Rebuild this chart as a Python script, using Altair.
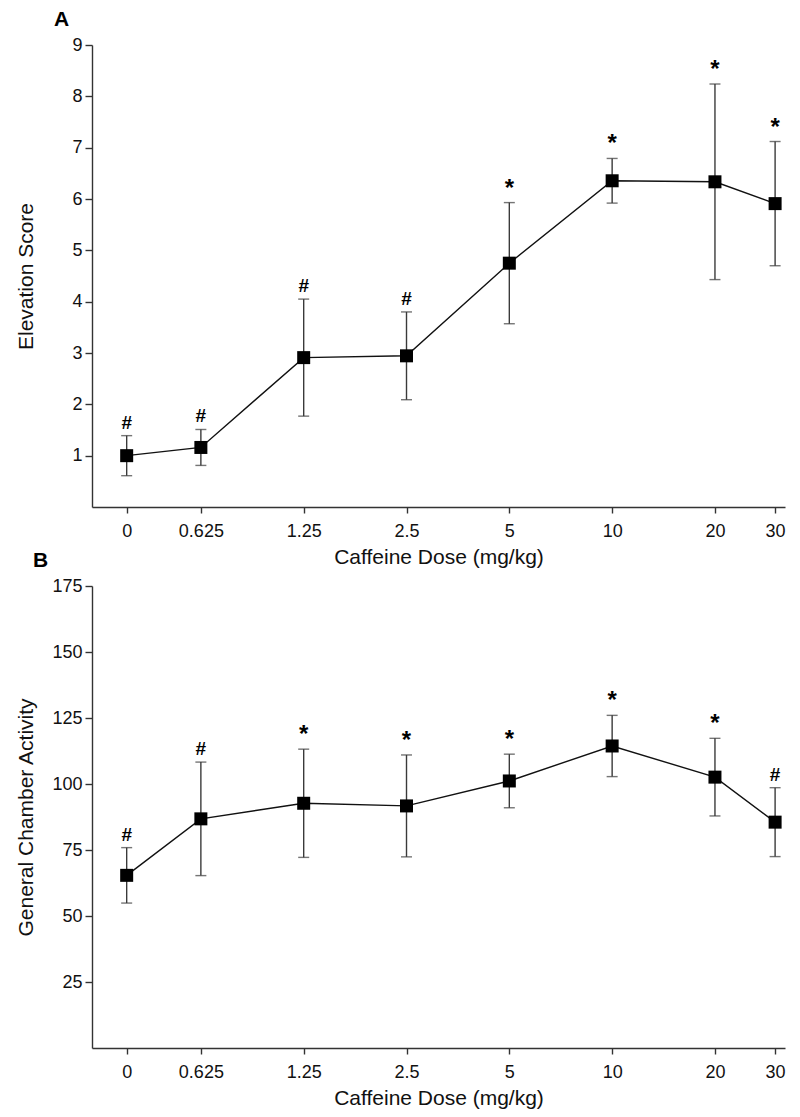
import altair as alt
import pandas as pd

FONT = "Liberation Sans"

# Doses (mg/kg) and their tick labels
doses = [0, 0.625, 1.25, 2.5, 5, 10, 20, 30]
dose_labels = ["0", "0.625", "1.25", "2.5", "5", "10", "20", "30"]
# dose 0 is drawn at this value on the log axis (axis-break convention)
zero_axis_value = 0.379
x_domain = [0.30, 32.07]

# Panel A: Elevation Score (mean, error)
elev_mean = [1.00, 1.16, 2.91, 2.945, 4.75, 6.355, 6.335, 5.91]
elev_err = [0.39, 0.35, 1.14, 0.855, 1.18, 0.435, 1.905, 1.21]
elev_sig = ["#", "#", "#", "#", "*", "*", "*", "*"]

# Panel B: General Chamber Activity (mean, error)
act_mean = [65.4, 86.8, 92.7, 91.7, 101.15, 114.4, 102.6, 85.55]
act_err = [10.5, 21.5, 20.5, 19.3, 10.15, 11.6, 14.7, 13.05]
act_sig = ["#", "#", "*", "*", "*", "*", "*", "#"]

elev_ticks = [1, 2, 3, 4, 5, 6, 7, 8, 9]
act_ticks = [25, 50, 75, 100, 125, 150, 175]

sig_symbols = ["#", "*"]

xvals = [d if d > 0 else zero_axis_value for d in doses]

# label expression built from the tick labels
expr = "''"
for v, lab in reversed(list(zip(xvals, dose_labels))):
    expr = f"abs(datum.value - {v}) < 1e-6 ? '{lab}' : ({expr})"


def panel(mean, err, sig, ytitle, ymax, yticks, letter, letter_dx, title_pad):
    df = pd.DataFrame({
        "xpos": xvals,
        "mean": mean,
        "lo": [m - e for m, e in zip(mean, err)],
        "hi": [m + e for m, e in zip(mean, err)],
        "sig": sig,
    })
    base = alt.Chart(df)
    x = alt.X(
        "xpos:Q",
        scale=alt.Scale(type="log", domain=x_domain, nice=False),
        axis=alt.Axis(
            values=xvals,
            labelExpr=expr,
            title="Caffeine Dose (mg/kg)",
            titleFontSize=21,
            titleFontWeight="normal",
            titlePadding=6,
            labelFontSize=18,
            labelPadding=9,
            tickSize=6,
            labelFlush=False,
            labelOverlap=False,
        ),
    )
    y = alt.Y(
        "mean:Q",
        scale=alt.Scale(domain=[0, ymax], nice=False, zero=True),
        axis=alt.Axis(
            values=yticks,
            title=ytitle,
            titleFontSize=21,
            titleFontWeight="normal",
            titlePadding=title_pad,
            labelFontSize=18,
            labelPadding=3,
            tickSize=7,
        ),
    )
    rule = base.mark_rule(color="#3a3a3a", strokeWidth=1.4).encode(
        x=x, y=alt.Y("lo:Q"), y2="hi:Q"
    )
    cap_hi = base.mark_tick(orient="horizontal", size=11, thickness=1.4, color="#3a3a3a").encode(
        x=x, y=alt.Y("hi:Q")
    )
    cap_lo = base.mark_tick(orient="horizontal", size=11, thickness=1.4, color="#3a3a3a").encode(
        x=x, y=alt.Y("lo:Q")
    )
    line = base.mark_line(color="#111111", strokeWidth=1.4).encode(x=x, y=y)
    pts = base.mark_square(size=169, color="#000000", opacity=1, filled=True).encode(x=x, y=y)
    txt = base.mark_text(
        font=FONT, fontWeight="bold", dy=-7, baseline="alphabetic", color="#000000"
    ).encode(
        x=x,
        y=alt.Y("hi:Q"),
        text="sig:N",
        size=alt.Size("sig:N", scale=alt.Scale(domain=sig_symbols, range=[19, 24]), legend=None),
    )
    return alt.layer(line, rule, cap_hi, cap_lo, pts, txt).properties(
        width=693,
        height=462,
        title=alt.TitleParams(
            letter, anchor="start", frame="group", dx=letter_dx, fontSize=21,
            fontWeight="bold", font=FONT, color="#000000", offset=6,
        ),
    )


a = panel(elev_mean, elev_err, elev_sig, "Elevation Score", 9, elev_ticks, "A", -38, 35)
b = panel(act_mean, act_err, act_sig, "General Chamber Activity", 175, act_ticks, "B", -59, 15)

chart = alt.vconcat(a, b, spacing=79, bounds="flush").resolve_scale(size="independent").properties(
    padding={"left": 7, "top": 1, "right": 5, "bottom": 5}
).configure_view(stroke=None).configure_axis(
    grid=False,
    domainColor="#333333",
    tickColor="#333333",
    domainWidth=1.4,
    tickWidth=1.4,
    labelColor="#111111",
    titleColor="#111111",
    labelFont=FONT,
    titleFont=FONT,
)

chart.save("out.html", embed_options={"renderer": "svg", "actions": False})
